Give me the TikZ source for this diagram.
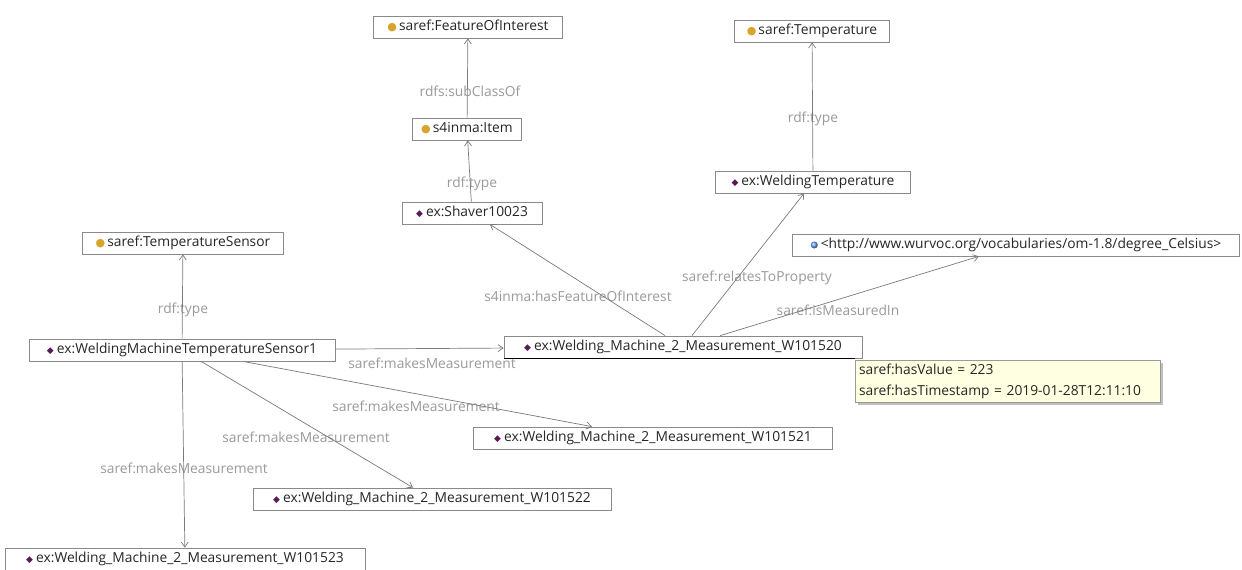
\documentclass[tikz,border=0pt]{standalone}
\usepackage{fontspec}
\usetikzlibrary{arrows.meta,calc,shadows}
\newfontfamily\uifont{Open Sans}
\newfontfamily\symfont{DejaVu Sans}
\definecolor{boxgray}{HTML}{8A8A8A}
\definecolor{edgegray}{HTML}{7A7A7A}
\definecolor{lblgray}{HTML}{9A9A9A}
\definecolor{classgold}{HTML}{D9A42A}
\definecolor{indpurple}{HTML}{5A1A55}
\definecolor{tipyellow}{HTML}{FFFFE1}
\newcommand{\clsicon}{{\color{classgold}\symfont\fontsize{11}{11}\selectfont ●}\hspace{2pt}}
\newcommand{\indicon}{{\color{indpurple}\symfont\fontsize{9}{9}\selectfont ◆}\hspace{3pt}}
\newcommand{\globeicon}{\tikz[baseline=-3.5pt]\shade[ball color=cyan!40!blue!60] (0,0) circle (3.5pt);\hspace{3pt}}
\begin{document}
\begin{tikzpicture}[x=1pt,y=-1pt,
  box/.style={draw=boxgray, line width=0.8pt, fill=white, minimum height=22pt, inner sep=2pt,
              text height=10pt, text depth=3pt,
              font=\uifont\fontsize{13.8}{15}\selectfont, text=black!85},
  lbl/.style={text=lblgray, font=\uifont\fontsize{13.8}{15}\selectfont, inner sep=0pt},
  arr/.style={draw=edgegray, line width=0.7pt, -{Straight Barb[length=5pt,width=7pt]}}]
\useasboundingbox (0,0) rectangle (1242,570);
\fill[white] (0,0) rectangle (1242,570);

% labels (drawn first, lines cross them)
\node[lbl] (l1) at (470,91) {rdfs:subClassOf};
\node[lbl] (l2) at (472,184) {rdf:type};
\node[lbl] (l3) at (813,119) {rdf:type};
\node[lbl] (l4) at (578,296) {s4inma:hasFeatureOfInterest};
\node[lbl] (l5) at (757,278) {saref:relatesToProperty};
\node[lbl] (l6) at (838,310) {saref:isMeasuredIn};
\node[lbl] (l7) at (183,310) {rdf:type};
\node[lbl] (l8) at (432,363) {saref:makesMeasurement};
\node[lbl] (l9) at (416,406) {saref:makesMeasurement};
\node[lbl] (l10) at (306,437) {saref:makesMeasurement};
\node[lbl] (l11) at (184,468) {saref:makesMeasurement};

% nodes
\node[box, minimum width=189pt] (foi) at (468,27) {\clsicon saref:FeatureOfInterest};
\node[box, minimum width=109pt] (item) at (467,129) {\clsicon s4inma:Item};
\node[box, minimum width=155pt] (temp) at (812,31) {\clsicon saref:Temperature};
\node[box, minimum width=195pt] (wtemp) at (813,182) {\indicon ex:WeldingTemperature};
\node[box, minimum width=140pt] (shaver) at (472,213) {\indicon ex:Shaver10023};
\node[box, minimum width=201pt] (tsens) at (183,243) {\clsicon saref:TemperatureSensor};
\node[box, minimum width=447pt] (celsius) at (1016,245) {\globeicon<http://www.wurvoc.org/vocabularies/om-1.8/degree\_Celsius>};
\node[box, minimum width=306pt] (sensor) at (182,350) {\indicon ex:WeldingMachineTemperatureSensor1};
\node[box, minimum width=358pt] (m520) at (683,347) {\indicon ex:Welding\_Machine\_2\_Measurement\_W101520};
\node[box, minimum width=359pt] (m521) at (653,438) {\indicon ex:Welding\_Machine\_2\_Measurement\_W101521};
\node[box, minimum width=358pt] (m522) at (432,499) {\indicon ex:Welding\_Machine\_2\_Measurement\_W101522};
\node[box, minimum width=360pt] (m523) at (185,559) {\indicon ex:Welding\_Machine\_2\_Measurement\_W101523};

\draw[black, line width=1.2pt] (m520.south west) -- ($(m520.south east)+(-7,0)$);

% tooltip
\fill[black!25] (858,363) rectangle (1163,405);
\node[draw=black!40, fill=tipyellow, line width=0.6pt, minimum width=305pt, minimum height=42pt,
      text width=297pt, inner xsep=4pt, inner ysep=0pt, align=left,
      font=\uifont\fontsize{13.8}{21}\selectfont, text=black!85] (tip) at (1007.5,381)
      {saref:hasValue = 223\\saref:hasTimestamp = 2019-01-28T12:11:10};

% connectors
\draw[arr] (item) -- (foi);
\draw[arr] (shaver) -- (item);
\draw[arr] (wtemp) -- (temp);
\draw[arr] (m520) -- (shaver);
\draw[arr] (m520) -- (wtemp);
\draw[arr] (m520) -- (celsius);
\draw[arr] (sensor) -- (tsens);
\draw[arr] (sensor) -- (m520);
\draw[arr] (sensor) -- (m521);
\draw[arr] (sensor) -- (m522);
\draw[arr] (sensor) -- (m523);
\end{tikzpicture}
\end{document}
